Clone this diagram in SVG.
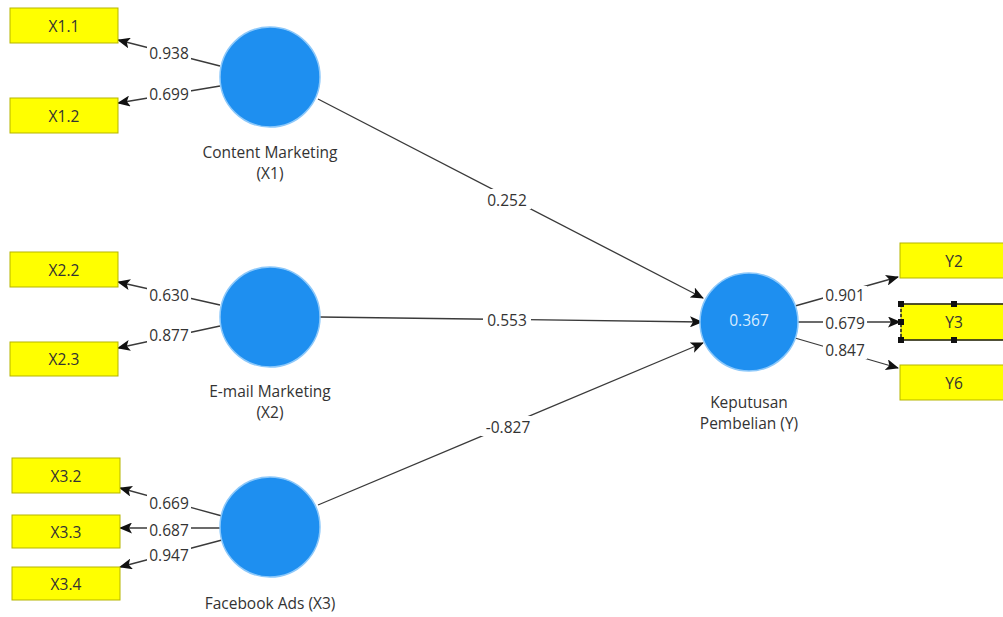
<svg xmlns="http://www.w3.org/2000/svg" width="1003" height="617" viewBox="0 0 1003 617">
<defs>
<style>
.bg{fill:#ffffff}
.ind rect.box{fill:#ffff00;stroke:#b5b500;stroke-width:1}
.ind text{font-family:"Open Sans","Noto Sans",sans-serif;font-size:15.5px;fill:#333;text-anchor:middle;dominant-baseline:central}
.lv circle{fill:#1e8ff0;stroke:#8cc8fa;stroke-width:1.5}
.lv text{font-family:"Open Sans","Noto Sans",sans-serif;font-size:15.5px;fill:#333;text-anchor:middle;dominant-baseline:central}
.lv text.r2{fill:#d8ecff}
.edge line{stroke:#3a3a3a;stroke-width:1.3;marker-end:url(#ah)}
.lbl rect{fill:#ffffff}
.lbl text{font-family:"Open Sans","Noto Sans",sans-serif;font-size:15.5px;fill:#333;text-anchor:middle;dominant-baseline:central}
.sel{fill:none;stroke:#222;stroke-width:1.5}
.ind rect.hd{fill:#111;stroke:none}
</style>
<marker id="ah" markerUnits="userSpaceOnUse" markerWidth="13" markerHeight="11" refX="12" refY="5.5" orient="auto">
<path d="M0,0 L13,5.5 L0,11 L3,5.5 Z" fill="#111"/>
</marker>
</defs>
<rect class="bg" x="0" y="0" width="1003" height="617"/>

<g id="connectors" class="edge">
<line x1="220" y1="66" x2="118" y2="40"/>
<line x1="220" y1="86" x2="118" y2="103"/>
<line x1="220" y1="305" x2="118" y2="282"/>
<line x1="220" y1="326" x2="118" y2="348"/>
<line x1="222" y1="516" x2="120" y2="488"/>
<line x1="220" y1="528" x2="120" y2="528"/>
<line x1="222" y1="540" x2="120" y2="567"/>
<line x1="318" y1="99" x2="703" y2="298"/>
<line x1="320" y1="317" x2="702" y2="322"/>
<line x1="318" y1="505" x2="703" y2="343"/>
<line x1="795" y1="306" x2="898" y2="277"/>
<line x1="798" y1="322" x2="900" y2="322"/>
<line x1="795" y1="338" x2="898" y2="368"/>
</g>

<g id="edge-labels" class="lbl">
<rect x="147" y="44" width="44" height="18"/><text x="169" y="53">0.938</text>
<rect x="147" y="85" width="44" height="18"/><text x="169" y="94">0.699</text>
<rect x="147" y="286" width="44" height="18"/><text x="169" y="295">0.630</text>
<rect x="147" y="326" width="44" height="18"/><text x="169" y="335">0.877</text>
<rect x="147" y="494" width="44" height="18"/><text x="169" y="503">0.669</text>
<rect x="147" y="521" width="44" height="18"/><text x="169" y="530">0.687</text>
<rect x="147" y="546" width="44" height="18"/><text x="169" y="555">0.947</text>
<rect x="483" y="189" width="48" height="20"/><text x="507" y="200">0.252</text>
<rect x="483" y="310" width="48" height="20"/><text x="507" y="320">0.553</text>
<rect x="481" y="416" width="54" height="20"/><text x="508" y="427">-0.827</text>
<rect x="823" y="286" width="44" height="18"/><text x="845" y="295">0.901</text>
<rect x="823" y="314" width="44" height="18"/><text x="845" y="323">0.679</text>
<rect x="823" y="341" width="44" height="18"/><text x="845" y="350">0.847</text>
</g>

<g id="X1.1" class="ind"><rect class="box" x="10" y="8" width="108" height="35"/><text x="64" y="26">X1.1</text></g>
<g id="X1.2" class="ind"><rect class="box" x="10" y="98" width="108" height="35"/><text x="64" y="116">X1.2</text></g>
<g id="X2.2" class="ind"><rect class="box" x="10" y="252" width="108" height="35"/><text x="64" y="270">X2.2</text></g>
<g id="X2.3" class="ind"><rect class="box" x="10" y="342" width="108" height="34"/><text x="64" y="359">X2.3</text></g>
<g id="X3.2" class="ind"><rect class="box" x="12" y="458" width="108" height="35"/><text x="66" y="476">X3.2</text></g>
<g id="X3.3" class="ind"><rect class="box" x="12" y="515" width="108" height="33"/><text x="66" y="532">X3.3</text></g>
<g id="X3.4" class="ind"><rect class="box" x="12" y="567" width="108" height="33"/><text x="66" y="584">X3.4</text></g>
<g id="Y2" class="ind"><rect class="box" x="900" y="243" width="108" height="35"/><text x="954" y="261">Y2</text></g>
<g id="Y3" class="ind"><rect class="box" x="901" y="304" width="108" height="36"/><text x="954" y="322">Y3</text>
<line class="sel" x1="901" y1="304" x2="1010" y2="304"/><line class="sel" x1="901" y1="340" x2="1010" y2="340"/>
<line class="sel" x1="901" y1="304" x2="901" y2="340" stroke-dasharray="3,2"/>
<rect class="hd" x="898" y="301" width="6" height="6"/><rect class="hd" x="951" y="301" width="6" height="6"/>
<rect class="hd" x="898" y="337" width="6" height="6"/><rect class="hd" x="951" y="337" width="6" height="6"/>
<rect class="hd" x="898" y="319" width="6" height="6"/></g>
<g id="Y6" class="ind"><rect class="box" x="900" y="365" width="108" height="35"/><text x="954" y="383">Y6</text></g>

<g id="X1" class="lv"><circle cx="270" cy="77" r="50"/><text x="270" y="152">Content Marketing</text><text x="270" y="173">(X1)</text></g>
<g id="X2" class="lv"><circle cx="270" cy="317" r="50"/><text x="270" y="391">E-mail Marketing</text><text x="270" y="412">(X2)</text></g>
<g id="X3" class="lv"><circle cx="270" cy="527" r="50"/><text x="270" y="603">Facebook Ads (X3)</text></g>
<g id="Y" class="lv"><circle cx="749" cy="322" r="49"/><text class="r2" x="749" y="320">0.367</text><text x="749" y="402">Keputusan</text><text x="749" y="423">Pembelian (Y)</text></g>
</svg>
